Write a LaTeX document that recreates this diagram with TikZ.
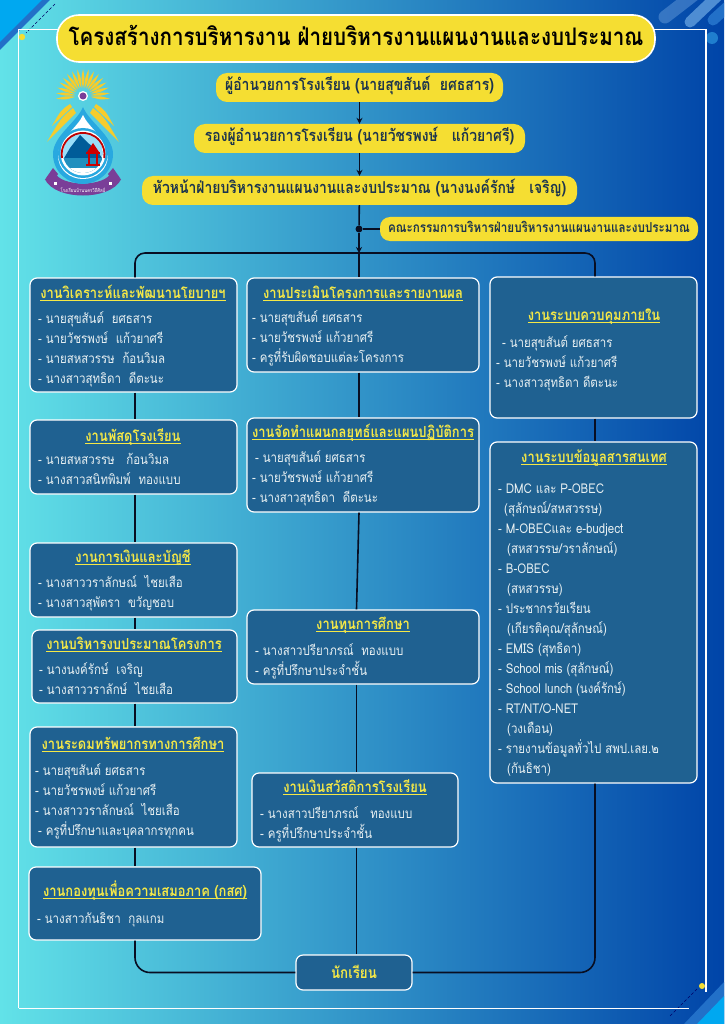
\documentclass[tikz,border=0pt]{standalone}
\usepackage{fontspec}
\setmainfont[Script=Thai,FakeStretch=0.85]{Loma}
\usetikzlibrary{positioning,arrows.meta,calc}
\definecolor{bgleft}{RGB}{98,226,232}
\definecolor{bgmid}{RGB}{42,140,202}
\definecolor{bgright}{RGB}{0,68,168}
\definecolor{boxblue}{RGB}{31,97,145}
\definecolor{bannercolor}{RGB}{245,222,50}
\definecolor{titleyellow}{RGB}{245,232,70}
\definecolor{bodywhite}{RGB}{232,240,242}
\definecolor{inkcolor}{RGB}{28,52,78}
\definecolor{linkcolor}{RGB}{8,14,34}
\definecolor{cornerbright}{RGB}{0,168,240}
\definecolor{cornerband}{RGB}{34,112,200}
\definecolor{logopurple}{RGB}{122,62,152}
\definecolor{logoblue}{RGB}{40,168,224}
\definecolor{raycolor}{RGB}{246,204,44}
\newcommand{\uline}[1]{\setbox0\hbox{#1}\rlap{\rule[-2.4pt]{\wd0}{0.8pt}}\box0}
\begin{document}
\begin{tikzpicture}[x=1pt,y=-1pt,
		% Box styles
		titlebar/.style={rectangle, rounded corners=22pt, fill=bannercolor, draw=white, line width=1.6pt,
			minimum width=598pt, minimum height=47pt, text=black, font=\fontsize{24.2}{30}\selectfont\bfseries,
			text height=19pt, text depth=5pt, inner sep=0pt},
		banner/.style={rectangle, rounded corners=11pt, fill=bannercolor, minimum height=29pt, text=inkcolor,
			font=\fontsize{16.4}{18}\selectfont\bfseries, text height=11pt, text depth=4pt, inner sep=0pt},
		jobbox/.style={rectangle, rounded corners=7pt, fill=boxblue, draw=white, line width=1.2pt, inner sep=0pt},
		% Text styles
		jobtitle/.style={anchor=base, inner sep=0pt, text=titleyellow, font=\fontsize{15.2}{18}\selectfont\bfseries},
		jobtext/.style={anchor=north west, inner sep=0pt, yshift=-3pt, align=left, text=bodywhite,
			font=\fontsize{13.5}{20}\selectfont, execute at begin node=\strut},
		% Arrow styles
		link/.style={draw=linkcolor, line width=1.6pt},
		arrow/.style={link, -{Stealth[length=6pt,width=6pt]}},
		frameline/.style={draw=white, line width=1.3pt},
		thinline/.style={draw=black!60!blue, line width=0.5pt, densely dashed},
		ray/.style={fill=raycolor}
		]
		\useasboundingbox (0,0) rectangle (724,1024);
		\clip (0,0) rectangle (724,1024);
		
		% Background
		\shade[left color=bgleft, middle color=bgmid, right color=bgright] (0,0) rectangle (724,1024);
		
		% Corner decorations
		\fill[cornerband] (0,0) -- (50,0) -- (0,50) -- cycle;
		\fill[cornerbright] (0,0) -- (42,0) -- (0,42) -- cycle;
		\fill[cornerband] (724,982) -- (724,1024) -- (684,1024) -- cycle;
		\fill[cornerbright] (724,996) -- (724,1024) -- (697,1024) -- cycle;
		\draw[line width=13pt, line cap=round, draw=white!30!cornerband, opacity=0.5] (665,17) -- (700,-10);
		\draw[line width=11pt, line cap=round, draw=cornerband!80!white] (690,22) -- (730,-16);
		\draw[line width=11pt, line cap=round, draw=cornerband] (713,20) -- (735,0);
		\fill[cornerband!90!cyan] (712,38) circle (6);
		\draw[thinline] (55,4) -- (26,33);
		\draw[thinline] (697,989) -- (669,1017);
		
		% Frame
		\draw[frameline] (18.5,1008) -- (18.5,29.5) -- (706,29.5) -- (706,992);
		\draw[frameline] (18.5,1008.5) -- (689,1008.5);
		\fill[bannercolor] (22,37) circle (3.2);
		\fill[bannercolor] (702,986) circle (3);
		
		% Logo
		\foreach \a in {-96,-84,...,96}
			\fill[ray, rotate around={\a:(83,96)}] (83,88) .. controls (81,79) .. (83,69) .. controls (85,79) .. (83,88) -- cycle;
		\foreach \s in {-1,1} {
			\fill[ray] ({83+\s*10},108) .. controls ({83+\s*22},118) .. ({83+\s*36},142) .. controls ({83+\s*22},128) .. ({83+\s*7},113) -- cycle;
			\fill[ray] ({83+\s*13},104) .. controls ({83+\s*22},110) .. ({83+\s*31},126) .. controls ({83+\s*21},117) .. ({83+\s*11},107) -- cycle;
		}
		\draw[logopurple, line width=12pt] (50,176) .. controls (58,194) and (108,194) .. (116,176);
		\fill[logopurple] (46,178) -- (53,168) -- (58,174) -- (52,184) -- cycle;
		\fill[logopurple] (120,178) -- (113,168) -- (108,174) -- (114,184) -- cycle;
		\fill[white] (54,182) rectangle (57,185);
		\fill[white] (109,182) rectangle (112,185);
		\fill[logoblue] (83,107) .. controls (77,122) and (53,136) .. (53,154) .. controls (53,172) and (68,184) .. (83,184) .. controls (98,184) and (113,172) .. (113,154) .. controls (113,136) and (89,122) .. (83,107) -- cycle;
		\fill[white] (83,115) .. controls (78,127) and (58,140) .. (58,155) .. controls (58,170) and (70,179) .. (83,179) .. controls (96,179) and (108,170) .. (108,155) .. controls (108,140) and (88,127) .. (83,115) -- cycle;
		\fill[logoblue] (83,153) circle (25);
		\fill[white] (83,153) circle (22.5);
		\begin{scope}
			\clip (83,153) circle (20);
			\fill[cyan!40] (63,133) rectangle (103,173);
			\fill[blue!40!cyan!60!black] (63,160) -- (70,148) -- (80,135) -- (88,143) -- (97,150) -- (103,160) -- cycle;
			\fill[logoblue!85!black] (63,158) rectangle (103,173);
			\fill[white] (63,168) rectangle (103,173);
		\end{scope}
		\draw[red!75!black, line width=1.8pt] (62,158) arc[start angle=170, end angle=370, radius=21.4];
		\fill[red!80!black] (93,143) -- (87,152) -- (99,152) -- cycle;
		\fill[red!80!black] (86,152) rectangle (100,154);
		\fill[red!80!black] (88,154) rectangle (90,164);
		\fill[red!80!black] (96,154) rectangle (98,164);
		\fill[red!80!black] (86,164) rectangle (100,166);
		\fill[white] (83,96) circle (5);
		\fill[logopurple] (83,96) circle (3.5);
		\node[inner sep=0pt, text=white, font=\fontsize{5}{6}\selectfont] (logo_name) at (83,190) {โรงเรียนบ้านนครวิถีศิลป์};
		
		% Title
		\node[titlebar] (main_title) at (356,38.5) {โครงสร้างการบริหารงาน ฝ่ายบริหารงานแผนงานและงบประมาณ};
		
		% Top of the line
		\node[banner, minimum width=287pt] (director) at (359.5,87.5) {ผู้อำนวยการโรงเรียน (นายสุขสันต์~~ยศธสาร)};
		\node[banner, minimum width=331pt] (deputy) at (359.5,138.5) {รองผู้อำนวยการโรงเรียน (นายวัชรพงษ์~~~แก้วยาศรี)};
		\node[banner, minimum width=435pt] (head) at (359.5,190.5) {หัวหน้าฝ่ายบริหารงานแผนงานและงบประมาณ (นางนงค์รักษ์~~~เจริญ)};
		\node[banner, minimum width=318pt, minimum height=24pt, rounded corners=10pt, font=\fontsize{13.7}{16}\selectfont\bfseries] (committee) at (539,229) {คณะกรรมการบริหารฝ่ายบริหารงานแผนงานและงบประมาณ};
		\node[circle, fill=linkcolor, minimum size=7pt, inner sep=0pt] (junction) at (359,229) {};
		\coordinate (leftbus) at (135,253);
		\coordinate (midbus) at (359,253);
		\coordinate (rightbus) at (595,253);
		\coordinate (midlow) at (356.5,800);
		
		% Left column
		\node[jobbox, minimum width=207pt, minimum height=114pt] (analysis) at (133.5,335) {};
		\node[jobtitle] (analysis_title) at (133,298) {\uline{งานวิเคราะห์และพัฒนานโยบายฯ}};
		\node[jobtext] (analysis_text) at (38,308) {- นายสุขสันต์~~ยศธสาร\\- นายวัชรพงษ์~~แก้วยาศรี\\- นายสหสวรรษ~~ก้อนวิมล\\- นางสาวสุทธิดา~~ดีตะนะ};
		
		\node[jobbox, minimum width=207pt, minimum height=74pt] (supplies) at (133.5,457) {};
		\node[jobtitle] (supplies_title) at (133,441) {\uline{งานพัสดุโรงเรียน}};
		\node[jobtext] (supplies_text) at (38,450) {- นายสหสวรรษ~~~ก้อนวิมล\\- นางสาวสนิทพิมพ์~~ทองแบบ};
		
		\node[jobbox, minimum width=207pt, minimum height=74pt] (finance) at (133.5,580) {};
		\node[jobtitle] (finance_title) at (133,562) {\uline{งานการเงินและบัญชี}};
		\node[jobtext] (finance_text) at (38,572) {- นางสาววราลักษณ์~~ไชยเสือ\\- นางสาวสุพัตรา~~ขวัญชอบ};
		
		\node[jobbox, minimum width=205pt, minimum height=73pt] (budget) at (134.5,666.5) {};
		\node[jobtitle] (budget_title) at (134,649) {\uline{งานบริหารงบประมาณโครงการ}};
		\node[jobtext] (budget_text) at (39,659) {- นางนงค์รักษ์~~เจริญ\\- นางสาววราลักษ์~~ไชยเสือ};
		
		\node[jobbox, minimum width=207pt, minimum height=120pt] (resources) at (133.5,787) {};
		\node[jobtitle] (resources_title) at (133,749) {\uline{งานระดมทรัพยากรทางการศึกษา}};
		\node[jobtext] (resources_text) at (35,760) {- นายสุขสันต์ ยศธสาร\\- นายวัชรพงษ์ แก้วยาศรี\\- นางสาววราลักษณ์~~ไชยเสือ\\\hspace*{3pt}- ครูที่ปรึกษาและบุคลากรทุกคน};
		
		\node[jobbox, minimum width=232pt, minimum height=73pt] (equity) at (145,903.5) {};
		\node[jobtitle] (equity_title) at (145,896) {\uline{งานกองทุนเพื่อความเสมอภาค (กสศ)}};
		\node[jobtext] (equity_text) at (37,906) {- นางสาวกันธิชา~~กุลแกม};
		
		% Middle column
		\node[jobbox, minimum width=232pt, minimum height=94pt] (evaluation) at (363,325) {};
		\node[jobtitle] (evaluation_title) at (363,298) {\uline{งานประเมินโครงการและรายงานผล}};
		\node[jobtext] (evaluation_text) at (252,307) {- นายสุขสันต์ ยศธสาร\\- นายวัชรพงษ์ แก้วยาศรี\\- ครูที่รับผิดชอบแต่ละโครงการ};
		
		\node[jobbox, minimum width=232pt, minimum height=94pt] (strategy) at (363,465) {};
		\node[jobtitle] (strategy_title) at (363,437) {\uline{งานจัดทำแผนกลยุทธ์และแผนปฏิบัติการ}};
		\node[jobtext] (strategy_text) at (252,447) {\hspace*{3pt}- นายสุขสันต์ ยศธสาร\\- นายวัชรพงษ์ แก้วยาศรี\\- นางสาวสุทธิดา~~ดีตะนะ};
		
		\node[jobbox, minimum width=232pt, minimum height=74pt] (scholarship) at (363,647) {};
		\node[jobtitle] (scholarship_title) at (363,629) {\uline{งานทุนการศึกษา}};
		\node[jobtext] (scholarship_text) at (255,640) {- นางสาวปรียาภรณ์~~ทองแบบ\\- ครูที่ปรึกษาประจำชั้น};
		
		\node[jobbox, minimum width=206pt, minimum height=74pt] (welfare) at (355,810) {};
		\node[jobtitle] (welfare_title) at (355,792) {\uline{งานเงินสวัสดิการโรงเรียน}};
		\node[jobtext] (welfare_text) at (260,803) {- นางสาวปรียาภรณ์~~~ทองแบบ\\- ครูที่ปรึกษาประจำชั้น};
		
		\node[jobbox, minimum width=116pt, minimum height=35pt] (student) at (354,972.5) {};
		\node[jobtitle, font=\fontsize{15.7}{18}\selectfont\bfseries] (student_title) at (354,978) {นักเรียน};
		
		% Right column
		\node[jobbox, minimum width=207pt, minimum height=141pt] (internal) at (593.5,347.5) {};
		\node[jobtitle] (internal_title) at (594,320) {\uline{งานระบบควบคุมภายใน}};
		\node[jobtext] (internal_text) at (496,332) {\hspace*{6pt}- นายสุขสันต์ ยศธสาร\\- นายวัชรพงษ์ แก้วยาศรี\\- นางสาวสุทธิดา ดีตะนะ};
		
		\node[jobbox, minimum width=207pt, minimum height=341pt] (datasys) at (593.5,612.5) {};
		\node[jobtitle] (datasys_title) at (594,462) {\uline{งานระบบข้อมูลสารสนเทศ}};
		\node[jobtext] (datasys_text) at (498,481) {- DMC และ P-OBEC\\\hspace*{6pt}(สุลักษณ์/สหสวรรษ)\\- M-OBECและ e-budject\\\hspace*{9pt}(สหสวรรษ/วราลักษณ์)\\- B-OBEC\\\hspace*{9pt}(สหสวรรษ)\\- ประชากรวัยเรียน\\\hspace*{9pt}(เกียรติคุณ/สุลักษณ์)\\- EMIS (สุทธิดา)\\- School mis (สุลักษณ์)\\- School lunch (นงค์รักษ์)\\- RT/NT/O-NET\\\hspace*{9pt}(วงเดือน)\\- รายงานข้อมูลทั่วไป สพป.เลย.๒\\\hspace*{9pt}(กันธิชา)};
		
		% Arrows - top of the line
		\draw[arrow] (director) -- (deputy);
		\draw[arrow] (deputy) -- (head);
		\draw[link] (head) -- (junction);
		\draw[link] (junction) -- (committee);
		\draw[arrow] (junction) -- (midbus);
		\draw[link, rounded corners=10pt] (analysis.north -| leftbus) |- (midbus) -| (internal.north -| rightbus);
		\draw[link] (midbus) -- (evaluation.north -| midbus);
		
		% Arrows - left column
		\draw[link] (analysis.south -| leftbus) -- (supplies.north -| leftbus);
		\draw[link] (supplies.south -| leftbus) -- (finance.north -| leftbus);
		\draw[link] (finance.south -| leftbus) -- (budget.north -| leftbus);
		\draw[link] (budget.south -| leftbus) -- (resources.north -| leftbus);
		\draw[link] (resources.south -| leftbus) -- (equity.north -| leftbus);
		\draw[link, rounded corners=15pt] (equity.south -| leftbus) |- (student.west);
		
		% Arrows - middle column
		\draw[link] (evaluation.south -| midbus) -- (strategy.north -| midbus);
		\draw[link] (strategy.south -| midbus) -- (scholarship.north -| midlow);
		\draw[link] (scholarship.south -| midlow) -- (welfare.north -| midlow);
		\draw[link] (welfare.south -| midlow) -- (student.north -| midlow);
		
		% Arrows - right column
		\draw[link] (internal.south -| rightbus) -- (datasys.north -| rightbus);
		\draw[link, rounded corners=15pt] (datasys.south -| rightbus) |- (student.east);
		
	\end{tikzpicture}
\end{document}
